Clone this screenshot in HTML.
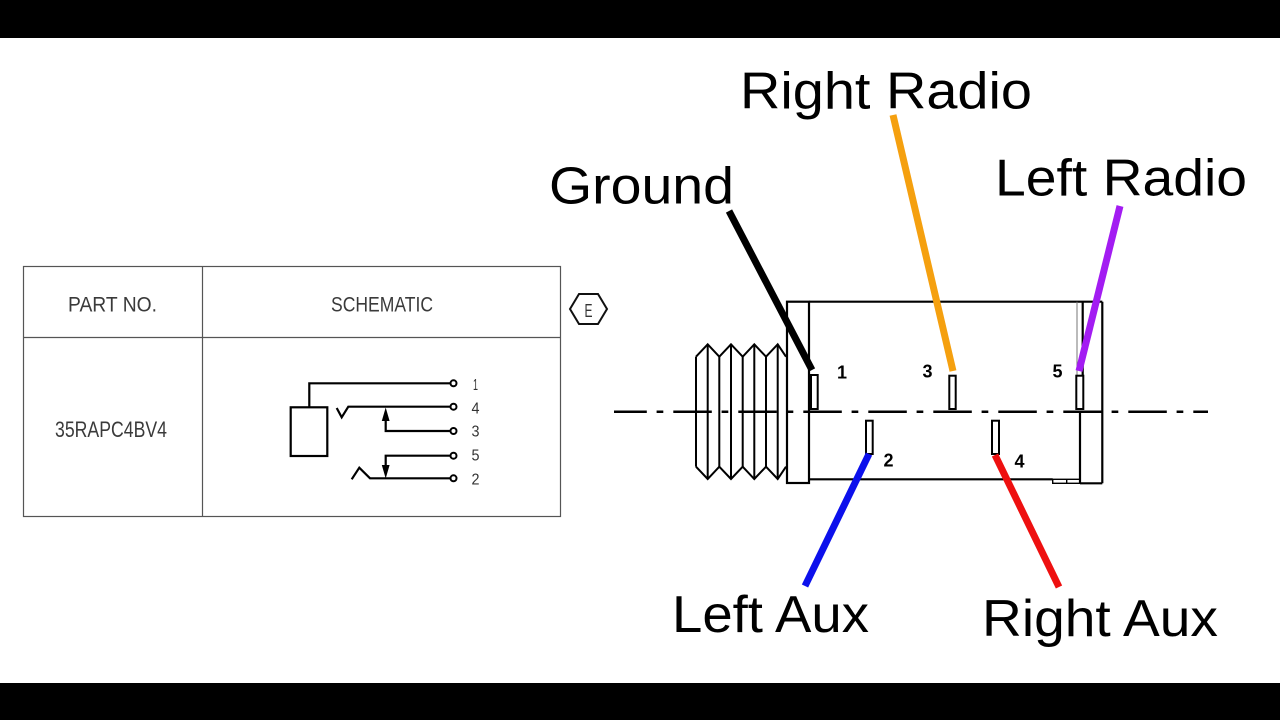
<!DOCTYPE html>
<html><head><meta charset="utf-8"><style>
html,body{margin:0;padding:0;background:#fff;}
svg{display:block;}
</style></head><body>
<svg width="1280" height="720" viewBox="0 0 1280 720" xmlns="http://www.w3.org/2000/svg">
<rect x="0" y="0" width="1280" height="720" fill="#fff"/>
<rect x="0" y="0" width="1280" height="38" fill="#000"/>
<rect x="0" y="683" width="1280" height="37" fill="#000"/>

<!-- Table -->
<g fill="none" stroke="#555" stroke-width="1.2">
<rect x="23.5" y="266.5" width="537" height="250"/>
<line x1="202.5" y1="266.5" x2="202.5" y2="516.5"/>
<line x1="23.5" y1="337.5" x2="560.5" y2="337.5"/>
</g>
<g font-family="Liberation Sans, sans-serif" fill="#3a3a3a" font-size="21">
<text x="68" y="311.5" textLength="89" lengthAdjust="spacingAndGlyphs">PART NO.</text>
<text x="331" y="311.5" textLength="102" lengthAdjust="spacingAndGlyphs">SCHEMATIC</text>
<text x="55" y="437" font-size="22" textLength="112" lengthAdjust="spacingAndGlyphs">35RAPC4BV4</text>
</g>
<polygon points="570,309 579,294 598,294 607,309 598,324 579,324" fill="none" stroke="#111" stroke-width="2"/>
<text x="588.5" y="317" font-family="Liberation Sans, sans-serif" font-size="18" fill="#333" text-anchor="middle" textLength="8" lengthAdjust="spacingAndGlyphs">E</text>

<!-- Schematic -->
<g fill="none" stroke="#000" stroke-width="2.2">
<rect x="290.7" y="407.3" width="36.6" height="48.7"/>
<polyline points="309.3,407.3 309.3,383.3 450,383.3"/>
<polyline points="336.7,408 341.7,417.3 348.3,406.7 450,406.7"/>
<polyline points="385.7,418 385.7,431 450,431"/>
<polyline points="450,455.7 385.7,455.7 385.7,468"/>
<polyline points="351.7,479.3 359.3,467.7 370,478.3 450,478.3"/>
</g>
<g fill="#000">
<polygon points="385.7,407.5 381.8,421 389.6,421"/>
<polygon points="385.7,478.5 381.8,465 389.6,465"/>
</g>
<g fill="#fff" stroke="#000" stroke-width="2">
<circle cx="453.5" cy="383.3" r="3"/>
<circle cx="453.5" cy="406.7" r="3"/>
<circle cx="453.5" cy="431" r="3"/>
<circle cx="453.5" cy="455.7" r="3"/>
<circle cx="453.5" cy="478.3" r="3"/>
</g>
<g font-family="Liberation Sans, sans-serif" font-size="16" fill="#333">
<text x="473" y="390" textLength="5" lengthAdjust="spacingAndGlyphs">1</text>
<text x="471.5" y="413.5" textLength="8" lengthAdjust="spacingAndGlyphs">4</text>
<text x="471.5" y="436.5" textLength="8" lengthAdjust="spacingAndGlyphs">3</text>
<text x="471.5" y="460.5" textLength="8" lengthAdjust="spacingAndGlyphs">5</text>
<text x="471.5" y="484.5" textLength="8" lengthAdjust="spacingAndGlyphs">2</text>
</g>

<!-- Center dash-dot line -->
<line x1="614" y1="411.7" x2="1208" y2="411.7" stroke="#000" stroke-width="2.5" stroke-dasharray="38.5 9.8 6.7 10" stroke-dashoffset="5.7"/>

<!-- Threads -->
<g fill="none" stroke="#000" stroke-width="2">
<polyline points="696,356.7 707.7,344.3 719.3,356.7 731,344.3 742.7,356.7 754.3,344.3 766,356.7 777.7,344.3 786,356.7"/>
<polyline points="696,466.7 707.7,479 719.3,466.7 731,479 742.7,466.7 754.3,479 766,466.7 777.7,479 786,466.7"/>
<line x1="696" y1="356.7" x2="696" y2="466.7"/>
<line x1="707.7" y1="344.3" x2="707.7" y2="479"/>
<line x1="719.3" y1="356.7" x2="719.3" y2="466.7"/>
<line x1="731" y1="344.3" x2="731" y2="479"/>
<line x1="742.7" y1="356.7" x2="742.7" y2="466.7"/>
<line x1="754.3" y1="344.3" x2="754.3" y2="479"/>
<line x1="766" y1="356.7" x2="766" y2="466.7"/>
<line x1="777.7" y1="344.3" x2="777.7" y2="479"/>
</g>

<!-- Body -->
<g fill="none" stroke="#000" stroke-width="2.2">
<rect x="787" y="301.7" width="22" height="181.3"/>
<line x1="809" y1="301.7" x2="1102.3" y2="301.7"/>
<line x1="1102.3" y1="301.7" x2="1102.3" y2="483.3"/>
<line x1="809" y1="479.3" x2="1052.7" y2="479.3"/>
<line x1="1080" y1="483.3" x2="1102.3" y2="483.3"/>
<line x1="1080" y1="411.7" x2="1080" y2="483.3"/>
<line x1="1082.7" y1="301.7" x2="1082.7" y2="375"/>
</g>
<g fill="none" stroke="#000" stroke-width="1.4">
<rect x="1052.7" y="479.3" width="27.3" height="4"/>
<line x1="1066.7" y1="479.3" x2="1066.7" y2="483.3"/>
</g>
<line x1="1077" y1="301.7" x2="1077" y2="375" stroke="#777" stroke-width="1"/>

<!-- Pins -->
<g fill="#fff" stroke="#000" stroke-width="2">
<rect x="811" y="375" width="6.7" height="34"/>
<rect x="866" y="420.7" width="6.7" height="33.3"/>
<rect x="949.3" y="375.7" width="6.4" height="33.3"/>
<rect x="992" y="420.7" width="7" height="33.3"/>
<rect x="1076.3" y="375.7" width="7" height="33.3"/>
</g>
<g font-family="Liberation Sans, sans-serif" font-weight="bold" font-size="18" fill="#000">
<text x="837" y="378.5">1</text>
<text x="883.5" y="466.5">2</text>
<text x="922.5" y="377.5">3</text>
<text x="1014.5" y="467.5">4</text>
<text x="1052.5" y="377.5">5</text>
</g>

<!-- Colored leads -->
<g stroke-width="7" stroke-linecap="butt">
<line x1="729" y1="211" x2="812" y2="370" stroke="#000"/>
<line x1="893" y1="115" x2="953" y2="371" stroke="#f5a00f"/>
<line x1="1120" y1="206" x2="1079" y2="371" stroke="#a31cf2"/>
<line x1="869" y1="454" x2="805" y2="586" stroke="#0c10ec"/>
<line x1="995" y1="455" x2="1059" y2="587" stroke="#ee1010"/>
</g>

<!-- Labels -->
<g font-family="Liberation Sans, Arial, sans-serif" font-size="52" fill="#000">
<text x="740" y="108.5" textLength="292" lengthAdjust="spacingAndGlyphs">Right Radio</text>
<text x="549" y="203.5" textLength="185" lengthAdjust="spacingAndGlyphs">Ground</text>
<text x="995" y="195.5" textLength="252" lengthAdjust="spacingAndGlyphs">Left Radio</text>
<text x="672" y="632" textLength="197" lengthAdjust="spacingAndGlyphs">Left Aux</text>
<text x="982" y="636" textLength="236" lengthAdjust="spacingAndGlyphs">Right Aux</text>
</g>
</svg>
</body></html>
